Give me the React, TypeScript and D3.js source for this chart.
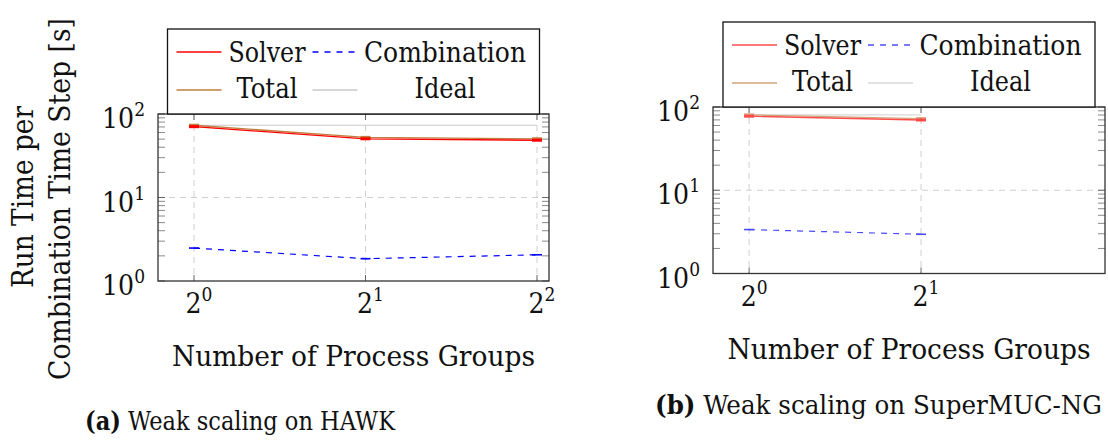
import React from "react";
import * as d3 from "d3";

// Weak scaling measurements: run time per combination time step in seconds
const HAWK_GROUPS = [1, 2, 4];
const HAWK_SOLVER = [70.5, 50.5, 48.5];
const HAWK_COMBINATION = [2.48, 1.85, 2.06];
const HAWK_TOTAL = [73.3, 52.5, 50.5];
const HAWK_IDEAL = [73.3, 73.3, 73.3];

const SNG_GROUPS = [1, 2];
const SNG_SOLVER = [77.5, 69.8];
const SNG_COMBINATION = [3.37, 2.96];
const SNG_TOTAL = [80.5, 72.5];
const SNG_IDEAL = [80.5, 80.5];

const HAWK_X_TICKS = [1, 2, 4];
const SNG_X_TICKS = [1, 2];
const Y_TICKS = [1, 10, 100];
const Y_TICK_EXP = ["0", "1", "2"];
const X_TICK_EXP: Record<number, string> = { 1: "0", 2: "1", 4: "2" };

const LEGEND_LABELS = ["Solver", "Combination", "Total", "Ideal"];
const X_TITLE = "Number of Process Groups";
const Y_TITLE = ["Run Time per", "Combination Time Step [s]"];

const FONT = "'DejaVu Serif Condensed', 'DejaVu Serif', serif";
const TEXT_STYLE = { fontStretch: "condensed" } as React.CSSProperties;

type Box = { x0: number; x1: number; y0: number; y1: number };

type PanelProps = {
  box: Box;
  groups: number[];
  solver: number[];
  combination: number[];
  total: number[];
  ideal: number[];
  xTicks: number[];
  opacity: number;
  legendTop: number;
};

const COLORS = {
  solver: "#ff0000",
  combination: "#0000ff",
  total: "#bf7f40",
  ideal: "#c8c8c8",
};

function Panel({ box, groups, solver, combination, total, ideal, xTicks, opacity, legendTop }: PanelProps) {
  const x = d3.scaleLog().base(2).domain([Math.pow(2, -0.21), Math.pow(2, 2.07)]).range([box.x0, box.x1]);
  const y = d3.scaleLog().domain([1, 100]).range([box.y1, box.y0]);

  const line = (vals: number[]) =>
    d3.line<number>().x((_, i) => x(groups[i])).y((v) => y(v))(vals) || "";

  const minor: number[] = [];
  [1, 10].forEach((dec) => {
    for (let k = 2; k <= 9; k++) minor.push(dec * k);
  });

  const series = [
    { key: "ideal", vals: ideal, color: COLORS.ideal, dash: undefined as string | undefined, marks: false, w: 1.2 },
    { key: "total", vals: total, color: COLORS.total, dash: undefined, marks: true, w: 1.3 },
    { key: "solver", vals: solver, color: COLORS.solver, dash: undefined, marks: true, w: 1.3 },
    { key: "combination", vals: combination, color: COLORS.combination, dash: "6,6", marks: true, w: 1.2 },
  ];

  const lx = (box.x0 + box.x1) / 2 - 186;
  const lw = 372;
  const lh = box.y0 - legendTop;

  const legendItems = [
    { label: LEGEND_LABELS[0], color: COLORS.solver, dash: undefined as string | undefined, sx: 9, tx: 99.5, row: 0, tl: 77 },
    { label: LEGEND_LABELS[1], color: COLORS.combination, dash: "6,6", sx: 145, tx: 277.5, row: 0, tl: 162 },
    { label: LEGEND_LABELS[2], color: COLORS.total, dash: undefined, sx: 9, tx: 99.5, row: 1, tl: 61 },
    { label: LEGEND_LABELS[3], color: COLORS.ideal, dash: undefined, sx: 145, tx: 277.5, row: 1, tl: 61 },
  ];

  return (
    <g>
      {/* grid */}
      {xTicks.map((t) => (
        <line key={"gx" + t} x1={x(t)} x2={x(t)} y1={box.y0} y2={box.y1} stroke="#cfcfcf" strokeWidth={1} strokeDasharray="6,5" />
      ))}
      <line x1={box.x0} x2={box.x1} y1={y(10)} y2={y(10)} stroke="#cfcfcf" strokeWidth={1} strokeDasharray="6,5" />

      {/* minor and major y ticks on both sides */}
      {minor.map((m) => (
        <g key={"m" + m}>
          <line x1={box.x0} x2={box.x0 + 7} y1={y(m)} y2={y(m)} stroke="#8a8a8a" strokeWidth={1} />
          <line x1={box.x1} x2={box.x1 - 7} y1={y(m)} y2={y(m)} stroke="#8a8a8a" strokeWidth={1} />
        </g>
      ))}
      {Y_TICKS.map((t) => (
        <g key={"my" + t}>
          <line x1={box.x0} x2={box.x0 + 7} y1={y(t)} y2={y(t)} stroke="#666" strokeWidth={1} />
          <line x1={box.x1} x2={box.x1 - 7} y1={y(t)} y2={y(t)} stroke="#666" strokeWidth={1} />
        </g>
      ))}
      {xTicks.map((t) => (
        <g key={"mx" + t}>
          <line x1={x(t)} x2={x(t)} y1={box.y1} y2={box.y1 - 6} stroke="#666" strokeWidth={1} />
          <line x1={x(t)} x2={x(t)} y1={box.y0} y2={box.y0 + 6} stroke="#666" strokeWidth={1} />
        </g>
      ))}

      {/* data */}
      <g opacity={opacity}>
        {series.map((s) => (
          <g key={s.key}>
            <path d={line(s.vals)} fill="none" stroke={s.color} strokeWidth={s.w} strokeDasharray={s.dash} />
            {s.marks &&
              s.vals.map((v, i) => (
                <line key={i} x1={x(groups[i]) - 5} x2={x(groups[i]) + 5} y1={y(v)} y2={y(v)} stroke={s.color} strokeWidth={s.key === "combination" ? 1.6 : 3} />
              ))}
          </g>
        ))}
      </g>

      {/* frame */}
      <rect x={box.x0} y={box.y0} width={box.x1 - box.x0} height={box.y1 - box.y0} fill="none" stroke="#333" strokeWidth={1.3} />

      {/* y tick labels */}
      {Y_TICKS.map((t, i) => (
        <text key={"yl" + t} x={box.x0 - 13} y={y(t) + 14} textAnchor="end" fontFamily={FONT} style={TEXT_STYLE} fontSize={28} fill="#111">
          10<tspan fontSize={19} dy={-12}>{Y_TICK_EXP[i]}</tspan>
        </text>
      ))}

      {/* x tick labels */}
      {xTicks.map((t) => (
        <text key={"xl" + t} x={x(t) + 5} y={box.y1 + 32} textAnchor="middle" fontFamily={FONT} style={TEXT_STYLE} fontSize={28} fill="#111">
          2<tspan fontSize={19} dy={-12}>{X_TICK_EXP[t]}</tspan>
        </text>
      ))}

      {/* x axis title */}
      <text x={(box.x0 + box.x1) / 2} y={box.y1 + 85} textAnchor="middle" fontFamily={FONT} style={TEXT_STYLE} fontSize={28.5} fill="#111" textLength={363} lengthAdjust="spacingAndGlyphs">
        {X_TITLE}
      </text>

      {/* legend */}
      <rect x={lx} y={legendTop} width={lw} height={lh} fill="#fff" stroke="#111" strokeWidth={1.3} />
      {legendItems.map((it) => {
        const cy = legendTop + (it.row === 0 ? 23 : 61);
        const by = legendTop + (it.row === 0 ? 33 : 69);
        return (
          <g key={it.label}>
            <line x1={lx + it.sx} x2={lx + it.sx + 45} y1={cy} y2={cy} stroke={it.color} strokeOpacity={opacity} strokeWidth={1.3} strokeDasharray={it.dash} />
            <text x={lx + it.tx} y={by} textAnchor="middle" fontFamily={FONT} style={TEXT_STYLE} fontSize={28} fill="#111" textLength={it.tl} lengthAdjust="spacingAndGlyphs">
              {it.label}
            </text>
          </g>
        );
      })}
    </g>
  );
}

export default function App() {
  const left: Box = { x0: 158, x1: 549, y0: 114, y1: 281 };
  const right: Box = { x0: 713, x1: 1105, y0: 107, y1: 273.5 };
  return (
    <svg width={1108} height={444} style={{ position: "absolute", left: 0, top: 0, background: "#fff" }}>
      <rect width={1108} height={444} fill="#fff" />
      <Panel box={left} groups={HAWK_GROUPS} solver={HAWK_SOLVER} combination={HAWK_COMBINATION} total={HAWK_TOTAL} ideal={HAWK_IDEAL} xTicks={HAWK_X_TICKS} opacity={1} legendTop={29} />
      <Panel box={right} groups={SNG_GROUPS} solver={SNG_SOLVER} combination={SNG_COMBINATION} total={SNG_TOTAL} ideal={SNG_IDEAL} xTicks={SNG_X_TICKS} opacity={0.7} legendTop={22} />

      {/* y axis title for the left panel */}
      <g fontFamily={FONT} style={TEXT_STYLE} fontSize={29} fill="#111">
        <text transform={`translate(33,197) rotate(-90)`} textAnchor="middle" textLength={182} lengthAdjust="spacingAndGlyphs">
          {Y_TITLE[0]}
        </text>
        <text transform={`translate(70,199) rotate(-90)`} textAnchor="middle" textLength={362} lengthAdjust="spacingAndGlyphs">
          {Y_TITLE[1]}
        </text>
      </g>

      {/* sub-figure captions */}
      <text x={85} y={430} fontFamily={FONT} style={TEXT_STYLE} fontSize={26} fill="#111" textLength={310} lengthAdjust="spacingAndGlyphs">
        <tspan fontWeight="bold">(a)</tspan> Weak scaling on HAWK
      </text>
      <text x={655} y={414} fontFamily={FONT} style={TEXT_STYLE} fontSize={26} fill="#111" textLength={447} lengthAdjust="spacingAndGlyphs">
        <tspan fontWeight="bold">(b)</tspan> Weak scaling on SuperMUC-NG
      </text>
    </svg>
  );
}
